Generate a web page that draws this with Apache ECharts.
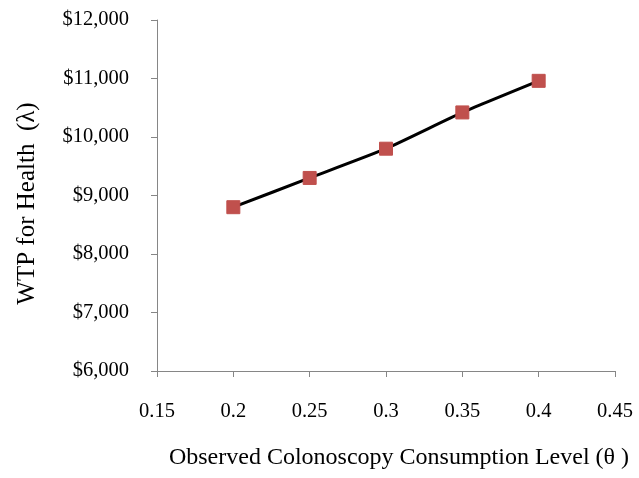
<!DOCTYPE html>
<html>
<head>
<meta charset="utf-8">
<script src="https://cdn.jsdelivr.net/npm/echarts@6/dist/echarts.min.js"></script>
<style>
  html, body { margin: 0; padding: 0; background: #fff; }
  #main { width: 639px; height: 478px; }
</style>
</head>
<body>
<div id="main"></div>
<script>
// theta values and WTP
var thetaLevels = [0.2, 0.25, 0.3, 0.35, 0.4];
var wtpValues = [8800, 9300, 9800, 10420, 10960];

var serif = '"Liberation Serif", "DejaVu Serif", serif';
var axisGray = '#868686';

var myChart = echarts.init(document.getElementById('main'));
myChart.setOption({
    animation: false,
    grid: { left: 157, right: 24, top: 20, bottom: 107 },
    xAxis: {
        type: 'value',
        min: 0.15,
        max: 0.45,
        interval: 0.05,
        name: 'Observed Colonoscopy Consumption Level (\u03B8 )',
        nameLocation: 'middle',
        nameGap: 75,
        nameTextStyle: { fontFamily: serif, fontSize: 24, color: '#000', padding: [0, 0, 0, 26] },
        axisLine: { lineStyle: { color: axisGray, width: 1 } },
        axisTick: { show: true, length: 6, lineStyle: { color: axisGray } },
        axisLabel: {
            margin: 30, fontFamily: serif, fontSize: 20.5, color: '#000',
            formatter: function (v) { return String(+v.toFixed(2)); }
        },
        splitLine: { show: false }
    },
    yAxis: {
        type: 'value',
        min: 6000,
        max: 12000,
        interval: 1000,
        name: 'WTP for Health  (\u03BB)',
        nameLocation: 'middle',
        nameGap: 117,
        nameTextStyle: { fontFamily: serif, fontSize: 25, color: '#000', padding: [0, 16, 0, 0] },
        axisLine: { show: true, lineStyle: { color: axisGray, width: 1 } },
        axisTick: { show: true, length: 6, lineStyle: { color: axisGray } },
        axisLabel: {
            margin: 28, fontFamily: serif, fontSize: 20.5, color: '#000',
            formatter: function (v) { return '$' + v.toLocaleString('en-US'); }
        },
        splitLine: { show: false }
    },
    series: [{
        type: 'line',
        data: thetaLevels.map(function (t, i) { return [t, wtpValues[i]]; }),
        smooth: 0.15,
        symbol: 'rect',
        symbolSize: 13,
        itemStyle: { color: '#c0504d', borderColor: '#c0504d' },
        lineStyle: { color: '#000', width: 3 }
    }]
});
</script>
</body>
</html>
